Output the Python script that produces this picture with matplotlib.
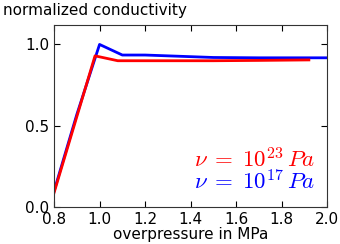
import numpy as np
import matplotlib
matplotlib.use("Agg")
import matplotlib.pyplot as plt

plt.rcParams["mathtext.fontset"] = "cm"

# overpressure (MPa) and normalized conductivity
p_high = [0.8, 0.98, 1.08, 1.3, 1.5, 1.7, 1.92]
c_high = [0.09, 0.93, 0.90, 0.90, 0.90, 0.902, 0.905]

p_low = [0.8, 0.9, 1.0, 1.1, 1.2, 1.3, 1.5, 1.7, 2.0]
c_low = [0.10, 0.57, 1.0, 0.935, 0.935, 0.93, 0.92, 0.918, 0.918]

x_ticks = [0.8, 1.0, 1.2, 1.4, 1.6, 1.8, 2.0]
y_ticks = [0.0, 0.5, 1.0]

fig = plt.figure(figsize=(3.4, 2.44), dpi=100)
ax = fig.add_axes([0.159, 0.15, 0.803, 0.748])

ax.plot(p_low, c_low, color="blue", lw=2)
ax.plot(p_high, c_high, color="red", lw=2)

ax.set_xlim(0.8, 2.0)
ax.set_ylim(0.0, 1.12)
ax.set_xticks(x_ticks)
ax.set_yticks(y_ticks)
ax.tick_params(direction="in", top=True, right=True, labelsize=11, length=4, pad=3.5)
for s in ax.spines.values():
    s.set_color("#333333")

ax.set_xlabel("overpressure in MPa", fontsize=11, labelpad=0)
fig.text(0.008, 0.955, "normalized conductivity", fontsize=11, va="center", ha="left")

ax.text(0.956, 0.217, r"$\nu \;=\; 10^{23}\, Pa$", color="red", fontsize=16.5,
        transform=ax.transAxes, ha="right", va="baseline")
ax.text(0.956, 0.097, r"$\nu \;=\; 10^{17}\, Pa$", color="blue", fontsize=16.5,
        transform=ax.transAxes, ha="right", va="baseline")

fig.savefig("out.png", dpi=100)
